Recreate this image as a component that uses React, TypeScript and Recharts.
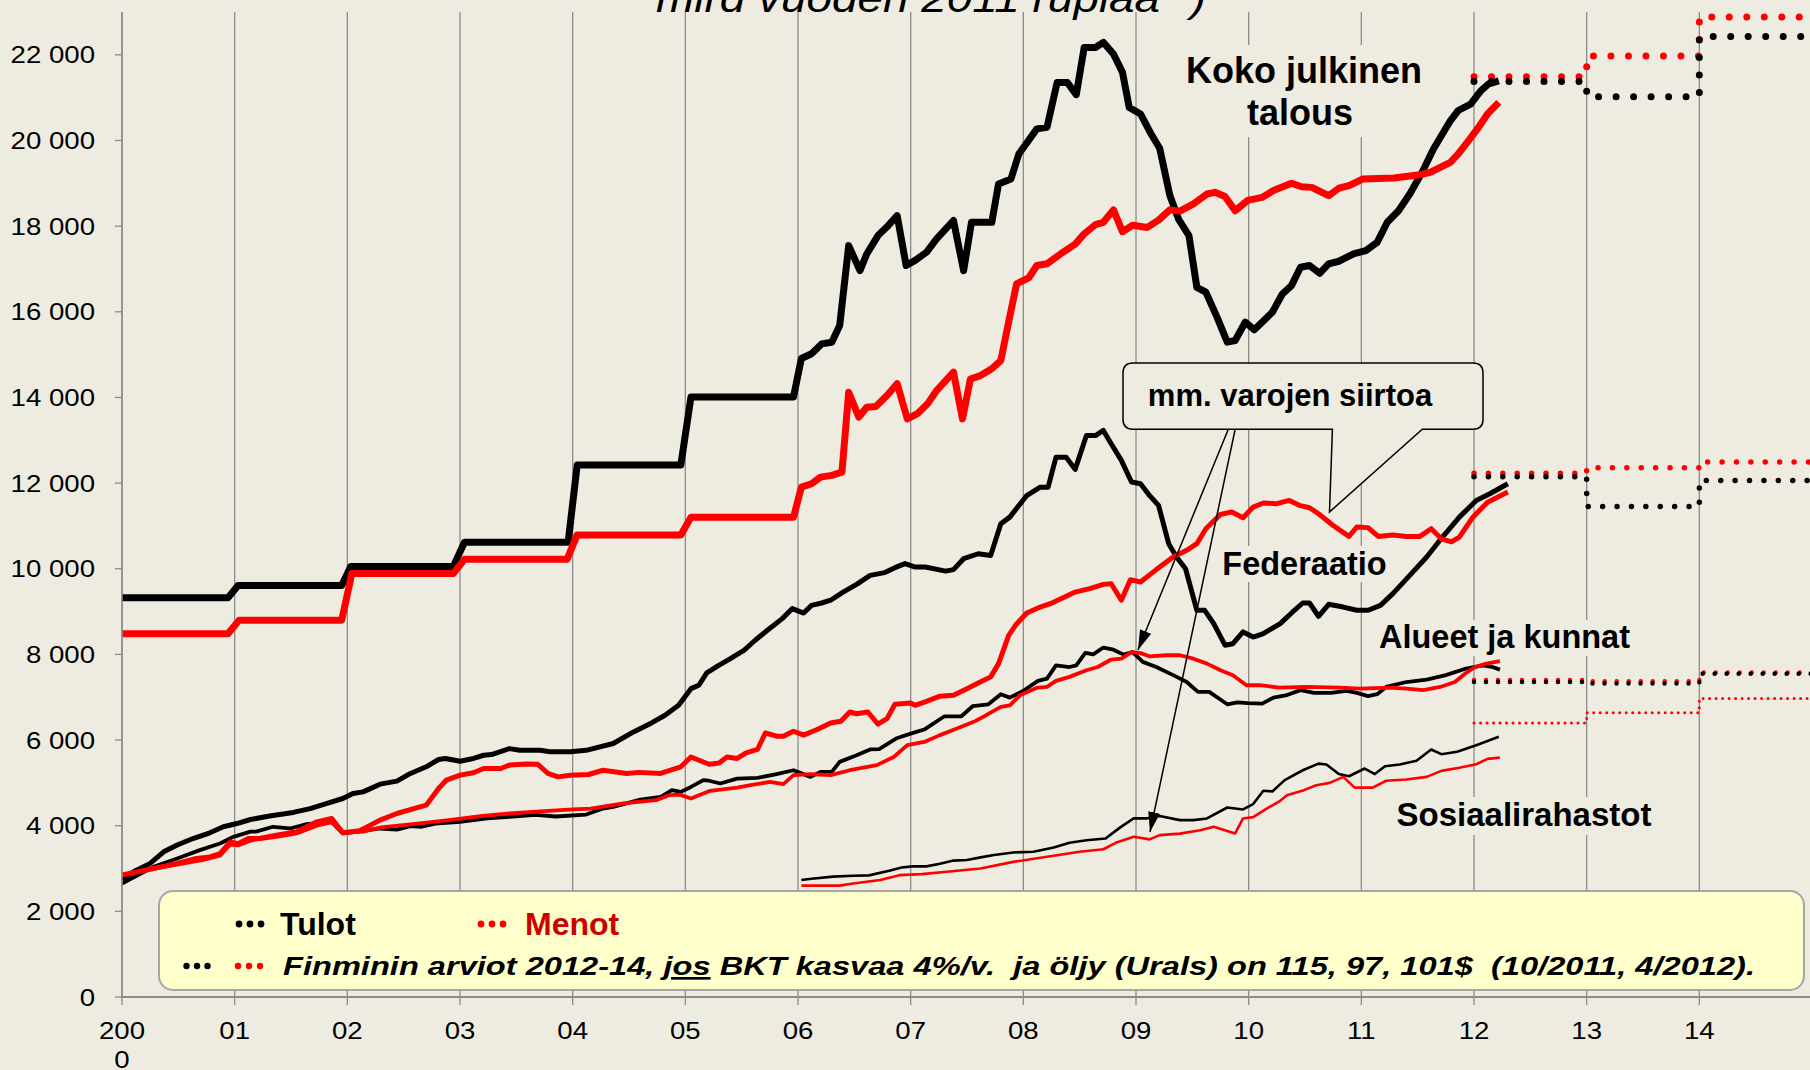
import React from 'react';
import { LineChart, Line, XAxis, YAxis, CartesianGrid } from 'recharts';

type P = [number, number];

// ---- axes ----
const xTicks = [2000, 2001, 2002, 2003, 2004, 2005, 2006, 2007, 2008, 2009, 2010, 2011, 2012, 2013, 2014];
const xTickLabels = ['2000', '01', '02', '03', '04', '05', '06', '07', '08', '09', '10', '11', '12', '13', '14'];
const yTicks = [0, 2000, 4000, 6000, 8000, 10000, 12000, 14000, 16000, 18000, 20000, 22000];
const yTickLabels = ['0', '2 000', '4 000', '6 000', '8 000', '10 000', '12 000', '14 000', '16 000', '18 000', '20 000', '22 000'];

// ---- Koko julkinen talous ----
const kokoTulot: P[] = [
  [2000.0, 9320], [2000.94, 9320], [2001.03, 9610], [2001.95, 9610], [2002.03, 10050], [2002.94, 10050],
  [2003.04, 10620], [2003.96, 10620], [2004.04, 12420], [2004.96, 12420], [2005.05, 14010], [2005.96, 14010],
  [2006.03, 14910], [2006.12, 15020], [2006.21, 15250], [2006.30, 15290], [2006.37, 15680], [2006.45, 17545],
  [2006.55, 16960], [2006.61, 17350], [2006.71, 17780], [2006.80, 18010], [2006.88, 18245], [2006.96, 17080],
  [2007.04, 17200], [2007.14, 17390], [2007.23, 17700], [2007.38, 18130], [2007.47, 16960], [2007.54, 18090],
  [2007.72, 18090], [2007.78, 18985], [2007.89, 19100], [2007.96, 19685], [2008.12, 20270], [2008.21, 20310],
  [2008.30, 21355], [2008.39, 21355], [2008.47, 21070], [2008.54, 22170], [2008.64, 22170], [2008.71, 22290],
  [2008.80, 22020], [2008.88, 21590], [2008.94, 20770], [2009.04, 20620], [2009.13, 20170], [2009.21, 19820],
  [2009.30, 18720], [2009.38, 18150], [2009.47, 17780], [2009.54, 16570], [2009.62, 16460], [2009.72, 15870],
  [2009.81, 15290], [2009.88, 15330], [2009.97, 15760], [2010.05, 15580], [2010.21, 15990], [2010.30, 16420],
  [2010.38, 16610], [2010.46, 17040], [2010.54, 17080], [2010.63, 16900], [2010.71, 17120], [2010.80, 17180],
  [2010.93, 17350], [2011.04, 17430], [2011.14, 17620], [2011.23, 18090], [2011.33, 18360], [2011.43, 18750],
  [2011.54, 19260], [2011.64, 19800], [2011.79, 20460], [2011.86, 20700], [2011.97, 20850], [2012.06, 21160],
  [2012.13, 21320], [2012.22, 21390],
];
const kokoMenot: P[] = [
  [2000.0, 8480], [2000.94, 8480], [2001.04, 8800], [2001.95, 8800], [2002.04, 9890], [2002.94, 9890],
  [2003.04, 10220], [2003.95, 10220], [2004.04, 10790], [2004.96, 10790], [2005.05, 11200], [2005.96, 11200],
  [2006.03, 11905], [2006.12, 11985], [2006.20, 12140], [2006.30, 12180], [2006.39, 12255], [2006.45, 14120],
  [2006.54, 13540], [2006.61, 13770], [2006.69, 13790], [2006.79, 14045], [2006.88, 14320], [2006.97, 13500],
  [2007.06, 13620], [2007.15, 13850], [2007.23, 14160], [2007.38, 14590], [2007.46, 13500], [2007.53, 14430],
  [2007.62, 14510], [2007.72, 14670], [2007.80, 14860], [2007.86, 15640], [2007.94, 16650], [2008.05, 16800],
  [2008.12, 17080], [2008.21, 17120], [2008.33, 17350], [2008.46, 17580], [2008.54, 17820], [2008.64, 18035],
  [2008.71, 18090], [2008.80, 18380], [2008.88, 17870], [2008.97, 18020], [2009.10, 17970], [2009.20, 18140],
  [2009.30, 18380], [2009.39, 18350], [2009.51, 18520], [2009.63, 18750], [2009.70, 18790], [2009.79, 18690],
  [2009.88, 18360], [2009.99, 18600], [2010.12, 18670], [2010.22, 18830], [2010.38, 19000], [2010.47, 18920],
  [2010.56, 18905], [2010.71, 18710], [2010.80, 18885], [2010.89, 18945], [2011.01, 19100], [2011.29, 19125],
  [2011.52, 19200], [2011.61, 19255], [2011.79, 19490], [2011.86, 19685], [2011.94, 19955], [2012.03, 20270],
  [2012.12, 20620], [2012.22, 20890],
];

// ---- Federaatio ----
const fedTulot: P[] = [
  [2000.0, 2750], [2000.12, 2950], [2000.25, 3120], [2000.37, 3390], [2000.49, 3550], [2000.63, 3700],
  [2000.78, 3835], [2000.90, 3975], [2001.02, 4050], [2001.14, 4145], [2001.31, 4225], [2001.52, 4310],
  [2001.67, 4400], [2001.82, 4520], [2001.96, 4635], [2002.05, 4750], [2002.14, 4790], [2002.29, 4970],
  [2002.44, 5040], [2002.56, 5220], [2002.70, 5375], [2002.81, 5545], [2002.87, 5570], [2003.00, 5505],
  [2003.12, 5570], [2003.21, 5645], [2003.28, 5660], [2003.44, 5800], [2003.53, 5760], [2003.71, 5760],
  [2003.80, 5725], [2003.98, 5725], [2004.12, 5760], [2004.36, 5920], [2004.54, 6190], [2004.70, 6400],
  [2004.82, 6580], [2004.94, 6810], [2005.05, 7200], [2005.12, 7280], [2005.19, 7570], [2005.30, 7750],
  [2005.40, 7900], [2005.52, 8095], [2005.62, 8330], [2005.72, 8545], [2005.86, 8835], [2005.95, 9070],
  [2006.05, 8965], [2006.12, 9145], [2006.21, 9200], [2006.29, 9265], [2006.40, 9455], [2006.52, 9635],
  [2006.64, 9845], [2006.77, 9910], [2006.86, 10025], [2006.95, 10120], [2007.04, 10040], [2007.13, 10040],
  [2007.31, 9945], [2007.38, 9980], [2007.47, 10235], [2007.60, 10350], [2007.71, 10310], [2007.80, 11050],
  [2007.88, 11205], [2008.03, 11710], [2008.15, 11905], [2008.22, 11905], [2008.29, 12605], [2008.38, 12605],
  [2008.46, 12320], [2008.56, 13110], [2008.64, 13110], [2008.71, 13230], [2008.78, 12920], [2008.87, 12530],
  [2008.96, 12025], [2009.04, 11985], [2009.12, 11710], [2009.20, 11480], [2009.29, 10585], [2009.36, 10275],
  [2009.44, 10000], [2009.54, 9030], [2009.61, 9030], [2009.69, 8720], [2009.79, 8215], [2009.86, 8250],
  [2009.95, 8525], [2010.04, 8405], [2010.13, 8485], [2010.28, 8720], [2010.39, 8990], [2010.48, 9200],
  [2010.54, 9200], [2010.62, 8890], [2010.71, 9170], [2010.84, 9105], [2010.96, 9030], [2011.06, 9030],
  [2011.17, 9145], [2011.28, 9420], [2011.43, 9845], [2011.58, 10275], [2011.72, 10740], [2011.87, 11205],
  [2012.02, 11595], [2012.14, 11750], [2012.30, 11985],
];
const fedMenot: P[] = [
  [2000.0, 2850], [2000.28, 3000], [2000.49, 3120], [2000.66, 3235], [2000.78, 3270], [2000.87, 3345],
  [2000.96, 3620], [2001.03, 3580], [2001.12, 3700], [2001.22, 3700], [2001.37, 3780], [2001.55, 3860],
  [2001.73, 4090], [2001.86, 4170], [2001.96, 3835], [2002.11, 3880], [2002.29, 4130], [2002.44, 4285],
  [2002.59, 4400], [2002.70, 4480], [2002.81, 4870], [2002.88, 5065], [2003.00, 5180], [2003.12, 5235],
  [2003.21, 5335], [2003.36, 5335], [2003.44, 5415], [2003.59, 5440], [2003.69, 5435], [2003.78, 5220],
  [2003.87, 5140], [2003.98, 5180], [2004.14, 5195], [2004.27, 5295], [2004.48, 5220], [2004.59, 5245],
  [2004.78, 5220], [2004.96, 5375], [2005.05, 5605], [2005.21, 5435], [2005.30, 5465], [2005.37, 5605],
  [2005.46, 5570], [2005.54, 5700], [2005.64, 5780], [2005.71, 6165], [2005.81, 6090], [2005.87, 6090],
  [2005.96, 6205], [2006.05, 6115], [2006.17, 6245], [2006.29, 6400], [2006.38, 6440], [2006.46, 6655],
  [2006.52, 6615], [2006.62, 6655], [2006.71, 6370], [2006.79, 6500], [2006.86, 6835], [2007.00, 6865],
  [2007.04, 6810], [2007.14, 6905], [2007.26, 7025], [2007.38, 7045], [2007.50, 7200], [2007.59, 7320],
  [2007.71, 7475], [2007.78, 7785], [2007.87, 8445], [2007.93, 8680], [2008.03, 8965], [2008.15, 9105],
  [2008.24, 9185], [2008.46, 9455], [2008.59, 9535], [2008.71, 9635], [2008.78, 9650], [2008.87, 9265],
  [2008.95, 9745], [2009.04, 9690], [2009.18, 9980], [2009.33, 10275], [2009.45, 10430], [2009.54, 10585],
  [2009.62, 10935], [2009.75, 11270], [2009.85, 11325], [2009.95, 11190], [2010.04, 11440], [2010.13, 11535],
  [2010.25, 11520], [2010.36, 11595], [2010.45, 11480], [2010.54, 11425], [2010.62, 11285], [2010.75, 11010],
  [2010.89, 10755], [2010.96, 10975], [2011.06, 10960], [2011.15, 10755], [2011.28, 10790], [2011.40, 10755],
  [2011.52, 10755], [2011.62, 10935], [2011.71, 10700], [2011.80, 10625], [2011.87, 10740], [2011.99, 11205],
  [2012.12, 11555], [2012.30, 11790],
];

// ---- Alueet ja kunnat ----
const alueetTulot: P[] = [
  [2000.0, 2650], [2000.28, 3040], [2000.49, 3235], [2000.69, 3430], [2000.87, 3585], [2000.99, 3740],
  [2001.14, 3860], [2001.19, 3860], [2001.34, 3975], [2001.49, 3935], [2001.64, 4035], [2001.79, 4070],
  [2001.86, 4090], [2001.96, 3820], [2002.14, 3880], [2002.29, 3935], [2002.44, 3910], [2002.56, 3990],
  [2002.66, 3975], [2002.78, 4050], [2003.00, 4090], [2003.24, 4170], [2003.44, 4205], [2003.67, 4255],
  [2003.85, 4215], [2004.12, 4260], [2004.27, 4400], [2004.36, 4440], [2004.60, 4610], [2004.78, 4670],
  [2004.88, 4830], [2004.96, 4790], [2005.05, 4905], [2005.16, 5065], [2005.21, 5050], [2005.31, 4985],
  [2005.46, 5100], [2005.64, 5115], [2005.81, 5205], [2005.96, 5295], [2006.11, 5140], [2006.20, 5255],
  [2006.30, 5255], [2006.37, 5490], [2006.52, 5645], [2006.64, 5780], [2006.72, 5790], [2006.87, 6035],
  [2007.00, 6150], [2007.12, 6245], [2007.30, 6555], [2007.45, 6555], [2007.55, 6790], [2007.69, 6835],
  [2007.80, 7070], [2007.88, 6990], [2008.00, 7150], [2008.13, 7380], [2008.21, 7435], [2008.29, 7745],
  [2008.41, 7705], [2008.47, 7745], [2008.55, 8035], [2008.62, 8000], [2008.71, 8160], [2008.80, 8110],
  [2008.89, 7995], [2008.97, 8055], [2009.06, 7825], [2009.18, 7705], [2009.33, 7515], [2009.45, 7355],
  [2009.55, 7125], [2009.65, 7125], [2009.81, 6835], [2009.90, 6880], [2009.99, 6860], [2010.12, 6850],
  [2010.22, 6990], [2010.34, 7050], [2010.46, 7165], [2010.58, 7100], [2010.73, 7100], [2010.87, 7150],
  [2010.96, 7100], [2011.06, 7025], [2011.14, 7070], [2011.22, 7240], [2011.40, 7355], [2011.58, 7410],
  [2011.75, 7515], [2011.93, 7670], [2012.08, 7745], [2012.17, 7700], [2012.23, 7645],
];
const alueetMenot: P[] = [
  [2000.0, 2850], [2000.25, 2980], [2000.55, 3120], [2000.72, 3200], [2000.87, 3300], [2000.96, 3560],
  [2001.03, 3540], [2001.15, 3660], [2001.37, 3740], [2001.55, 3820], [2001.73, 4000], [2001.86, 4080],
  [2001.96, 3830], [2002.14, 3860], [2002.30, 3960], [2002.60, 4040], [2002.90, 4130], [2003.20, 4230],
  [2003.44, 4285], [2003.75, 4340], [2004.00, 4380], [2004.16, 4400], [2004.45, 4520], [2004.74, 4595],
  [2004.86, 4715], [2004.95, 4725], [2005.05, 4635], [2005.22, 4815], [2005.46, 4890], [2005.58, 4945],
  [2005.75, 5025], [2005.87, 4970], [2005.96, 5180], [2006.11, 5205], [2006.29, 5180], [2006.46, 5295],
  [2006.70, 5415], [2006.85, 5605], [2006.97, 5880], [2007.12, 5955], [2007.26, 6115], [2007.41, 6270],
  [2007.56, 6425], [2007.67, 6580], [2007.80, 6775], [2007.88, 6810], [2007.97, 7045], [2008.12, 7220],
  [2008.21, 7240], [2008.29, 7380], [2008.41, 7475], [2008.56, 7630], [2008.66, 7705], [2008.78, 7880],
  [2008.87, 7900], [2008.96, 8055], [2009.04, 8030], [2009.12, 7955], [2009.27, 7980], [2009.39, 7980],
  [2009.51, 7900], [2009.63, 7785], [2009.75, 7630], [2009.86, 7515], [2009.98, 7280], [2010.10, 7280],
  [2010.27, 7225], [2010.51, 7240], [2010.81, 7225], [2010.99, 7200], [2011.25, 7225], [2011.40, 7200],
  [2011.55, 7165], [2011.70, 7240], [2011.83, 7355], [2011.92, 7550], [2012.01, 7705], [2012.11, 7785],
  [2012.23, 7845],
];

// ---- Sosiaalirahastot ----
const sosTulot: P[] = [
  [2006.03, 2730], [2006.12, 2760], [2006.31, 2810], [2006.49, 2830], [2006.63, 2840], [2006.81, 2950],
  [2006.92, 3025], [2007.02, 3050], [2007.14, 3050], [2007.26, 3110], [2007.38, 3185], [2007.50, 3200],
  [2007.62, 3260], [2007.74, 3315], [2007.91, 3375], [2008.09, 3390], [2008.27, 3490], [2008.41, 3600],
  [2008.56, 3660], [2008.73, 3700], [2008.86, 3960], [2008.98, 4170], [2009.09, 4170], [2009.21, 4225],
  [2009.39, 4130], [2009.51, 4130], [2009.63, 4170], [2009.81, 4425], [2009.95, 4380], [2010.04, 4505],
  [2010.13, 4815], [2010.21, 4800], [2010.32, 5065], [2010.48, 5295], [2010.62, 5450], [2010.69, 5430],
  [2010.80, 5205], [2010.89, 5155], [2011.03, 5335], [2011.12, 5205], [2011.21, 5390], [2011.34, 5430],
  [2011.49, 5515], [2011.62, 5780], [2011.71, 5670], [2011.85, 5725], [2012.02, 5880], [2012.22, 6075],
];
const sosMenot: P[] = [
  [2006.03, 2600], [2006.37, 2600], [2006.49, 2650], [2006.73, 2730], [2006.90, 2845], [2007.10, 2870],
  [2007.32, 2925], [2007.62, 3000], [2007.91, 3155], [2008.21, 3275], [2008.50, 3390], [2008.71, 3450],
  [2008.82, 3600], [2008.98, 3740], [2009.12, 3680], [2009.21, 3780], [2009.39, 3815], [2009.57, 3895],
  [2009.69, 3975], [2009.88, 3820], [2009.95, 4170], [2010.04, 4200], [2010.16, 4400], [2010.28, 4580],
  [2010.34, 4710], [2010.49, 4830], [2010.60, 4945], [2010.72, 5000], [2010.84, 5140], [2010.94, 4890],
  [2011.10, 4890], [2011.22, 5050], [2011.40, 5080], [2011.58, 5140], [2011.71, 5280], [2011.87, 5355],
  [2012.02, 5435], [2012.12, 5560], [2012.23, 5590],
];

// ---- Finminin arviot 2012-14 (forecasts) ----
const kokoTulotArvio: P[] = [[2012, 21380], [2013, 21020], [2014, 22430], [2015, 22430]];
const kokoMenotArvio: P[] = [[2012, 21490], [2013, 21970], [2014, 22885], [2015, 22885]];
const fedTulotArvio: P[] = [[2012, 12150], [2013, 11455], [2014, 12060], [2015, 12060]];
const fedMenotArvio: P[] = [[2012, 12230], [2013, 12360], [2014, 12490], [2015, 12490]];
const alueetTulotArvio: P[] = [[2012, 7355], [2013, 7320], [2014, 7550], [2015, 7550]];
const alueetMenotArvio: P[] = [[2012, 7400], [2013, 7370], [2014, 7580], [2015, 7580]];
const sosMenotArvio: P[] = [[2012, 6400], [2013, 6640], [2014, 6970], [2015, 6970]];

const BG = '#EEECE1';
const GRID = '#8C8C8C';
const RED = '#FF0000';
const FONT = '"Liberation Sans", Arial, sans-serif';

type S = { key: string; pts: P[]; color: string; width: number; dotGap?: number; step?: boolean };

const series: S[] = [
  { key: 'sosT', pts: sosTulot, color: '#000', width: 2.6 },
  { key: 'sosM', pts: sosMenot, color: RED, width: 2.6 },
  { key: 'alT', pts: alueetTulot, color: '#000', width: 3.8 },
  { key: 'alM', pts: alueetMenot, color: RED, width: 3.8 },
  { key: 'fedT', pts: fedTulot, color: '#000', width: 5 },
  { key: 'fedM', pts: fedMenot, color: RED, width: 5 },
  { key: 'kokoT', pts: kokoTulot, color: '#000', width: 7 },
  { key: 'kokoM', pts: kokoMenot, color: RED, width: 7 },
  { key: 'sosMA', pts: sosMenotArvio, color: RED, width: 3, dotGap: 6.5, step: true },
  { key: 'alMA', pts: alueetMenotArvio, color: RED, width: 4.5, dotGap: 12, step: true },
  { key: 'alTA', pts: alueetTulotArvio, color: '#000', width: 4.5, dotGap: 12, step: true },
  { key: 'fedMA', pts: fedMenotArvio, color: RED, width: 5.5, dotGap: 14.4, step: true },
  { key: 'fedTA', pts: fedTulotArvio, color: '#000', width: 5.5, dotGap: 14.4, step: true },
  { key: 'kokoMA', pts: kokoMenotArvio, color: RED, width: 7, dotGap: 17.5, step: true },
  { key: 'kokoTA', pts: kokoTulotArvio, color: '#000', width: 7, dotGap: 17.5, step: true },
];

const toData = (pts: P[]) => pts.map(([x, y]) => ({ x, y }));

function YTick(props: any) {
  const { x, y, payload } = props;
  const i = yTicks.indexOf(payload.value);
  return (
    <g transform={`translate(${x},${y})`}>
      <text transform="scale(1.15,1)" textAnchor="end" dy={8.5} fontFamily={FONT} fontSize={24} fill="#000">
        {yTickLabels[i]}
      </text>
    </g>
  );
}

function XTick(props: any) {
  const { x, y, payload } = props;
  const i = xTicks.indexOf(payload.value);
  const label = xTickLabels[i] ?? '';
  const lines = label.length > 3 ? [label.slice(0, 3), label.slice(3)] : [label];
  return (
    <g transform={`translate(${x},${y})`}>
      <text transform="scale(1.15,1)" textAnchor="middle" fontFamily={FONT} fontSize={24} fill="#000">
        {lines.map((l, k) => (
          <tspan key={k} x={0} y={34.5 + k * 29}>{l}</tspan>
        ))}
      </text>
    </g>
  );
}

function Dots({ cx, cy, color, r, gap }: { cx: number; cy: number; color: string; r: number; gap: number }) {
  return (
    <g>
      {[-1, 0, 1].map((k) => (
        <circle key={k} cx={cx + k * gap} cy={cy} r={r} fill={color} />
      ))}
    </g>
  );
}

function Overlay() {
  const bx0 = 1123, bx1 = 1483, by0 = 363, by1 = 429.3, r = 10;
  const callout = `M${bx0 + r},${by0} H${bx1 - r} Q${bx1},${by0} ${bx1},${by0 + r} V${by1 - r} Q${bx1},${by1} ${bx1 - r},${by1} H1422.3 L1329.5,512 L1332.4,${by1} H${bx0 + r} Q${bx0},${by1} ${bx0},${by1 - r} V${by0 + r} Q${bx0},${by0} ${bx0 + r},${by0} Z`;
  return (
    <svg width={1810} height={1070} style={{ position: 'absolute', left: 0, top: 0, pointerEvents: 'none' }}>
      <defs>
        <marker id="ah" viewBox="0 0 20 12" refX="20" refY="6" markerWidth="20" markerHeight="12" markerUnits="userSpaceOnUse" orient="auto">
          <path d="M0,0 L20,6 L0,12 Z" fill="#000" />
        </marker>
      </defs>
      <text x={931} y={12} textAnchor="middle" fontFamily={FONT} fontStyle="italic" fontSize={40} textLength={550} lengthAdjust="spacingAndGlyphs" fill="#000">
        mlrd vuoden 2011 ruplaa *)
      </text>

      <rect x={1180} y={45} width={250} height={92} fill={BG} />
      <text x={1304} y={83} textAnchor="middle" fontFamily={FONT} fontWeight="bold" fontSize={36} fill="#000">Koko julkinen</text>
      <text x={1300} y={125} textAnchor="middle" fontFamily={FONT} fontWeight="bold" fontSize={36} fill="#000">talous</text>

      <rect x={1216} y={546} width={178} height={36} fill={BG} />
      <text x={1304.5} y={575} textAnchor="middle" fontFamily={FONT} fontWeight="bold" fontSize={32.5} fill="#000">Federaatio</text>

      <rect x={1374} y={620} width={262} height={36} fill={BG} />
      <text x={1504.5} y={648} textAnchor="middle" fontFamily={FONT} fontWeight="bold" fontSize={32.5} fill="#000">Alueet ja kunnat</text>

      <rect x={1390} y={797} width={268} height={38} fill={BG} />
      <text x={1524} y={826} textAnchor="middle" fontFamily={FONT} fontWeight="bold" fontSize={33} fill="#000">Sosiaalirahastot</text>

      <path d={callout} fill={BG} stroke="#000" strokeWidth={1.5} />
      <text x={1290} y={406} textAnchor="middle" fontFamily={FONT} fontWeight="bold" fontSize={31} fill="#000">mm. varojen siirtoa</text>

      <line x1={1228} y1={430} x2={1138} y2={650} stroke="#000" strokeWidth={1.5} markerEnd="url(#ah)" />
      <line x1={1235} y1={430} x2={1150} y2={832} stroke="#000" strokeWidth={1.5} markerEnd="url(#ah)" />

      <rect x={159} y={891} width={1645} height={99} rx={14} ry={14} fill="#FFFFCC" stroke="#A6A6A6" strokeWidth={2} />
      <Dots cx={250} cy={924} color="#000" r={3.4} gap={11} />
      <text x={280} y={935} fontFamily={FONT} fontWeight="bold" fontSize={32} fill="#000">Tulot</text>
      <Dots cx={492} cy={924} color={RED} r={3.4} gap={11} />
      <text x={525} y={935} fontFamily={FONT} fontWeight="bold" fontSize={32} fill="#CC0000">Menot</text>
      <Dots cx={197} cy={966} color="#000" r={3.2} gap={10.5} />
      <Dots cx={249} cy={966} color={RED} r={3.2} gap={11} />
      <text x={283} y={975} fontFamily={FONT} fontWeight="bold" fontStyle="italic" fontSize={26.5} textLength={1472} lengthAdjust="spacingAndGlyphs" fill="#000" style={{ whiteSpace: 'pre' }}>
        Finminin arviot 2012-14, <tspan style={{ textDecoration: 'underline' }}>jos</tspan> BKT kasvaa 4%/v.  ja öljy (Urals) on 115, 97, 101$  (10/2011, 4/2012).
      </text>
    </svg>
  );
}

export default function App() {
  return (
    <div style={{ position: 'absolute', left: 0, top: 0, width: 1810, height: 1070, overflow: 'hidden', background: BG }}>
      <LineChart width={1830} height={1070} margin={{ top: 12, right: 18, bottom: 0, left: 0 }}>
        <CartesianGrid horizontal={false} stroke={GRID} strokeWidth={1.3} />
        <XAxis
          type="number"
          dataKey="x"
          domain={[2000, 2015]}
          ticks={xTicks}
          interval={0}
          allowDataOverflow
          height={73}
          tickSize={8}
          tickMargin={0}
          stroke={GRID}
          strokeWidth={2}
          tickLine={{ stroke: GRID, strokeWidth: 1.3 }}
          tick={<XTick />}
        />
        <YAxis
          type="number"
          domain={[0, 23000]}
          ticks={yTicks}
          interval={0}
          allowDataOverflow
          width={122}
          tickSize={7}
          tickMargin={20}
          stroke={GRID}
          strokeWidth={1.5}
          tickLine={{ stroke: GRID, strokeWidth: 1.3 }}
          tick={<YTick />}
        />
        {series.map((s) => (
          <Line
            key={s.key}
            data={toData(s.pts)}
            dataKey="y"
            type={s.step ? 'stepAfter' : 'linear'}
            stroke={s.color}
            strokeWidth={s.width}
            strokeDasharray={s.dotGap ? `0 ${s.dotGap}` : undefined}
            strokeLinecap={s.dotGap ? 'round' : 'butt'}
            strokeLinejoin="round"
            dot={false}
            activeDot={false}
            legendType="none"
            isAnimationActive={false}
          />
        ))}
      </LineChart>
      <Overlay />
    </div>
  );
}
